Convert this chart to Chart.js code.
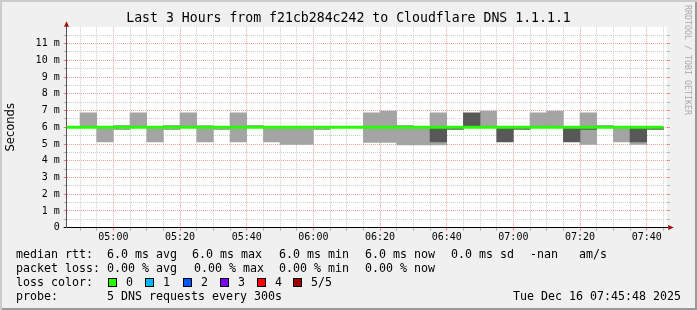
<!DOCTYPE html>
<html><head><meta charset="utf-8">
<script src="https://cdn.jsdelivr.net/npm/chart.js@4.4.1/dist/chart.umd.min.js"></script>
<style>
html,body{margin:0;padding:0;background:#f0f0f0;}
#wrap{position:relative;width:697px;height:310px;background:#f0f0f0;overflow:hidden;}
#c{position:absolute;left:0;top:0;}
.t{position:absolute;font-family:'DejaVu Sans Mono',monospace;font-size:11.63px;line-height:14px;color:#000;white-space:pre;}
.box{position:absolute;width:9px;height:9px;box-sizing:border-box;border:1px solid #000;}
#frame{position:absolute;left:0;top:0;width:697px;height:310px;box-shadow:inset 2px 2px 0 #cbcbcb, inset -2px -2px 0 #999;pointer-events:none;}
#wm{position:absolute;left:693px;top:5px;transform-origin:0 0;transform:rotate(90deg);font-family:'DejaVu Sans Mono',monospace;font-size:8.3px;line-height:10px;color:#aaa;white-space:pre;}
</style></head>
<body>
<div id="wrap">
<canvas id="c" width="697" height="310"></canvas>
<div id="wm">RRDTOOL / TOBI OETIKER</div>
<div class="t" style="left:16px;top:247px">median rtt:</div>
<div class="t" style="left:107px;top:247px">6.0 ms avg</div>
<div class="t" style="left:192px;top:247px">6.0 ms max</div>
<div class="t" style="left:279px;top:247px">6.0 ms min</div>
<div class="t" style="left:365px;top:247px">6.0 ms now</div>
<div class="t" style="left:451px;top:247px">0.0 ms sd</div>
<div class="t" style="left:530px;top:247px">-nan</div>
<div class="t" style="left:579px;top:247px">am/s</div>
<div class="t" style="left:16px;top:261px">packet loss:</div>
<div class="t" style="left:107px;top:261px">0.00 % avg</div>
<div class="t" style="left:194px;top:261px">0.00 % max</div>
<div class="t" style="left:279px;top:261px">0.00 % min</div>
<div class="t" style="left:365px;top:261px">0.00 % now</div>
<div class="t" style="left:16px;top:275px">loss color:</div>
<div id="lossLegend"></div>
<div class="t" style="left:16px;top:289px">probe:</div>
<div class="t" style="left:107px;top:289px">5 DNS requests every 300s</div>
<div class="t" style="left:513px;top:289px">Tue Dec 16 07:45:48 2025</div>
<div id="frame"></div>
</div>
<script>
// ---- data ----
const intervalStarts = ['04:45','04:50','04:55','05:00','05:05','05:10','05:15','05:20','05:25','05:30','05:35','05:40',
  '05:45','05:50','05:55','06:00','06:05','06:10','06:15','06:20','06:25','06:30','06:35','06:40',
  '06:45','06:50','06:55','07:00','07:05','07:10','07:15','07:20','07:25','07:30','07:35','07:40'];
const medianRtt = [6.0,6.0,6.0,6.0,6.0,6.0,6.0,6.0,6.0,6.0,6.0,6.0,6.0,6.0,6.0,6.0,6.0,6.0,
  6.0,6.0,6.0,6.0,6.0,6.0,6.0,6.0,6.0,6.0,6.0,6.0,6.0,6.0,6.0,6.0,6.0,6.0];
// outer smoke band (fastest .. slowest ping), ms
const smokeOuterLow  = [null,6.0,5.13,5.85,6.0,5.13,5.85,6.0,5.13,5.85,5.13,6.0,5.13,4.98,4.98,5.85,null,null,
  5.10,5.10,4.95,4.95,4.95,null,null,6.0,null,null,6.0,6.0,null,4.98,6.0,5.13,4.98,null];
const smokeOuterHigh = [null,6.86,6.05,6.12,6.86,6.05,6.12,6.86,6.10,6.05,6.86,6.12,6.05,6.05,6.05,6.0,null,null,
  6.86,6.96,6.12,6.0,6.86,null,null,6.96,null,null,6.86,6.96,null,6.86,6.12,6.0,6.0,null];
// inner smoke band (2nd .. 4th ping), ms
const smokeInnerLow  = [null,null,null,null,null,null,null,null,null,null,null,null,null,null,null,null,null,null,
  null,null,null,null,5.13,5.87,6.0,null,5.13,5.87,null,null,5.13,5.87,null,null,5.13,5.87];
const smokeInnerHigh = [null,null,null,null,null,null,null,null,null,null,null,null,null,null,null,null,null,null,
  null,null,null,null,5.95,6.0,6.86,null,6.0,6.0,null,null,6.0,6.0,null,null,6.0,6.0];
const xTickLabels = ['05:00','05:20','05:40','06:00','06:20','06:40','07:00','07:20','07:40'];
const yTickLabels = ['0','1 m','2 m','3 m','4 m','5 m','6 m','7 m','8 m','9 m','10 m','11 m'];
const lossLabels = ['0','1','2','3','4','5/5'];
const lossColors = ['#26ff00','#00b8ff','#0059ff','#7e00ff','#ff0000','#a10000'];
const TITLE = 'Last 3 Hours from f21cb284c242 to Cloudflare DNS 1.1.1.1';
const X_MIN = 286, X_MAX = 466; // minutes of day (04:46 .. 07:46)

// ---- helpers ----
const toMin = s => { const [h,m] = s.split(':').map(Number); return h*60+m; };
const starts = intervalStarts.map(toMin);
const STEP = starts[1]-starts[0];
const centers = starts.map(v => v + STEP/2);
const majorX = new Map(xTickLabels.map(l => [toMin(l), l]));
const xTicks = starts.concat([starts[starts.length-1]+STEP]).filter(v => v > X_MIN && v < X_MAX);
const yTicks = [];
yTickLabels.forEach((l,i) => { yTicks.push(i); yTicks.push(i+0.5); });

const MGRID = '#f4a4a4', GRID = '#cdcdcd', MTICK = '#ff7070', TICK = '#b0b0b0';

// loss legend boxes
const ll = document.getElementById('lossLegend');
const boxX = [108,145,183,220,257,293];
lossLabels.forEach((l,i) => {
  const b = document.createElement('div'); b.className='box';
  b.style.left = boxX[i]+'px'; b.style.top='278px'; b.style.background = lossColors[i];
  ll.appendChild(b);
  const t = document.createElement('div'); t.className='t'; t.textContent = l;
  t.style.left = (boxX[i]+18)+'px'; t.style.top='275px';
  ll.appendChild(t);
});

const bgPlugin = {
  id:'bg',
  beforeDraw(chart){
    const {ctx, chartArea:a} = chart;
    ctx.save(); ctx.fillStyle='#fff';
    ctx.fillRect(a.left, a.top, a.right-a.left, a.bottom-a.top);
    ctx.restore();
  },
  afterDraw(chart){
    const {ctx, chartArea:a} = chart;
    const xl = Math.round(a.left-0.5)+0.5, yb = Math.round(a.bottom-0.5)+0.5;
    ctx.save();
    ctx.strokeStyle='#000'; ctx.lineWidth=1;
    ctx.beginPath(); ctx.moveTo(a.right, yb); ctx.lineTo(a.right+2, yb); ctx.stroke();
    ctx.fillStyle='#a01010';
    ctx.beginPath(); ctx.moveTo(xl-2.5, a.top); ctx.lineTo(xl+2.5, a.top); ctx.lineTo(xl, a.top-5.5); ctx.closePath(); ctx.fill();
    ctx.beginPath(); ctx.moveTo(a.right+1.5, yb-2.5); ctx.lineTo(a.right+1.5, yb+2.5); ctx.lineTo(a.right+7, yb); ctx.closePath(); ctx.fill();
    ctx.restore();
  }
};

const band = (lo, hi) => centers.map((x,i) => ({x, y: (lo[i]==null||hi[i]==null) ? null : [lo[i], hi[i]]}));
const medianPts = starts.map((x,i) => ({x, y: medianRtt[i]}))
  .concat([{x: starts[starts.length-1]+STEP, y: medianRtt[medianRtt.length-1]}]);

new Chart(document.getElementById('c'), {
  type:'bar',
  data:{ datasets:[
    {type:'line', data:medianPts, borderColor:'#26ff00', borderWidth:3, pointRadius:0, stepped:true, fill:false, order:0, borderCapStyle:'butt'},
    {type:'bar', data:band(smokeInnerLow, smokeInnerHigh), backgroundColor:'#585858', grouped:false, barPercentage:1, categoryPercentage:1, borderWidth:0, order:1},
    {type:'bar', data:band(smokeOuterLow, smokeOuterHigh), backgroundColor:'#a4a4a4', grouped:false, barPercentage:1, categoryPercentage:1, borderWidth:0, order:2}
  ]},
  options:{
    responsive:false, animation:false, devicePixelRatio:1,
    layout:{padding:0},
    plugins:{
      legend:{display:false}, tooltip:{enabled:false},
      title:{display:true, text:TITLE, color:'#000', font:{family:'DejaVu Sans Mono', size:13.2, weight:'normal'}, padding:{top:11,bottom:0}}
    },
    scales:{
      x:{type:'linear', min:X_MIN, max:X_MAX, position:'bottom', offset:false,
        afterFit(s){ s.height = 82.3; },
        afterBuildTicks(s){ s.ticks = xTicks.map(v => ({value:v})); },
        ticks:{autoSkip:false, maxRotation:0, minRotation:0, padding:1, color:'#000',
          font:{family:'DejaVu Sans Mono', size:10}, callback:v => majorX.get(v) || ''},
        grid:{offset:false, color:c => (c.tick && majorX.has(c.tick.value)) ? MGRID : GRID,
          tickColor:c => (c.tick && majorX.has(c.tick.value)) ? MTICK : TICK, tickLength:3, lineWidth:1},
        border:{display:true, color:'#000', width:1, dash:[1,1]}
      },
      y:{type:'linear', min:0, max:12, position:'left',
        afterFit(s){ s.width = 66.7; },
        afterBuildTicks(s){ s.ticks = yTicks.map(v => ({value:v})); },
        ticks:{autoSkip:false, padding:4, color:'#000', font:{family:'DejaVu Sans Mono', size:10},
          callback:v => Number.isInteger(v) ? (yTickLabels[v] || '') : ''},
        grid:{color:c => (!c.tick || c.tick.value===0) ? 'rgba(0,0,0,0)' : (Number.isInteger(c.tick.value) ? MGRID : GRID),
          tickColor:c => (c.tick && c.tick.value===0) ? '#000' : (c.tick && Number.isInteger(c.tick.value) ? MTICK : TICK),
          tickLength:3, lineWidth:1},
        border:{display:true, color:'#555', width:1, dash:[1,1]},
        title:{display:true, text:'Seconds', color:'#000', font:{family:'DejaVu Sans', size:11.5}, padding:{top:4,bottom:0}}
      },
      y2:{type:'linear', min:0, max:12, position:'right',
        afterFit(s){ s.width = 30.3; },
        afterBuildTicks(s){ s.ticks = yTicks.filter(v => v>0).map(v => ({value:v})); },
        ticks:{display:false},
        grid:{drawOnChartArea:false, tickLength:3,
          color:c => (c.tick && Number.isInteger(c.tick.value)) ? MTICK : TICK},
        border:{display:false}
      }
    }
  },
  plugins:[bgPlugin]
});
</script>
</body></html>
